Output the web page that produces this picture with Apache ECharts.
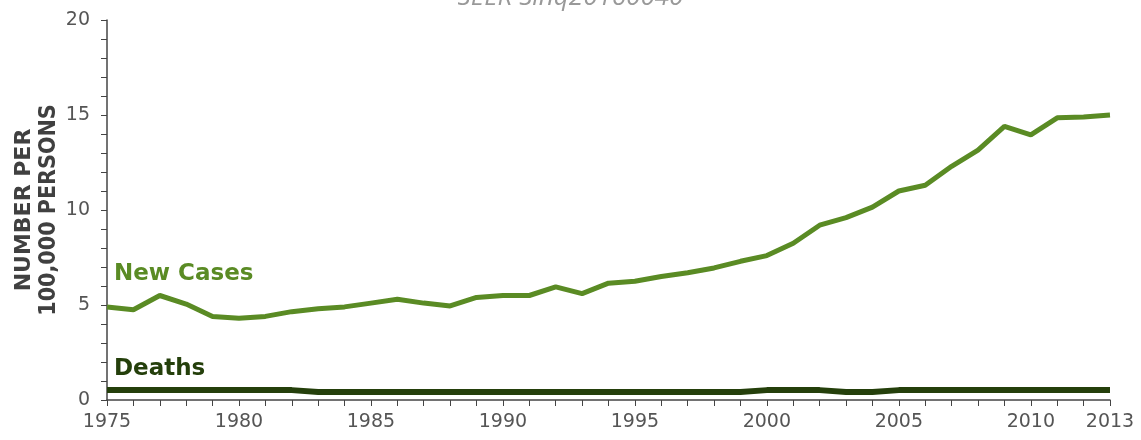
<!DOCTYPE html>
<html><head><meta charset="utf-8">
<script src="https://cdn.jsdelivr.net/npm/echarts@6/dist/echarts.min.js"></script>
<style>html,body{margin:0;padding:0;background:#fff}#c{width:1141px;height:440px}</style>
</head><body><div id="c"></div>
<script>
const years = [1975,1976,1977,1978,1979,1980,1981,1982,1983,1984,1985,1986,1987,1988,1989,1990,1991,1992,1993,1994,1995,1996,1997,1998,1999,2000,2001,2002,2003,2004,2005,2006,2007,2008,2009,2010,2011,2012,2013];
const newCases = [4.9,4.75,5.5,5.05,4.4,4.3,4.4,4.65,4.8,4.9,5.1,5.3,5.1,4.95,5.4,5.5,5.5,5.95,5.6,6.15,6.25,6.5,6.7,6.95,7.3,7.6,8.25,9.2,9.6,10.15,11.0,11.3,12.3,13.15,14.4,13.95,14.85,14.9,15.0];
const deaths = [0.52,0.52,0.52,0.52,0.52,0.52,0.52,0.52,0.42,0.42,0.42,0.42,0.42,0.42,0.42,0.42,0.42,0.42,0.42,0.42,0.42,0.42,0.42,0.42,0.42,0.52,0.52,0.52,0.42,0.42,0.52,0.52,0.52,0.52,0.52,0.52,0.52,0.52,0.52];
const xLabelYears = [1975,1980,1985,1990,1995,2000,2005,2010,2013];
const yTicks = [0,5,10,15,20];
const titleText = 'SEER Sinq20160040';
const yNameLines = ['NUMBER PER','100,000 PERSONS'];

const chart = echarts.init(document.getElementById('c'), null, {renderer:'canvas'});
const font = 'DejaVu Sans';
chart.setOption({
  animation:false,
  grid:{left:107,right:31,top:20,bottom:40,containLabel:false},
  xAxis:{type:'value',min:1975,max:2013,interval:1,
    axisLine:{show:true,lineStyle:{color:'#444',width:1.5}},
    axisTick:{show:true,length:6,lineStyle:{color:'#444'}},
    splitLine:{show:false},
    axisLabel:{fontFamily:font,fontSize:19,color:'#555',margin:13,showMaxLabel:true,
      formatter:v=>xLabelYears.indexOf(v)>=0?String(v):''}},
  yAxis:{type:'value',min:0,max:20,interval:1,
    axisLine:{show:true,lineStyle:{color:'#444',width:1.5}},
    axisTick:{show:true,length:6,lineStyle:{color:'#444'}},
    splitLine:{show:false},
    axisLabel:{fontFamily:font,fontSize:19,color:'#555',margin:17,
      formatter:v=>yTicks.indexOf(v)>=0?String(v):''}},
  graphic:[
    {type:'text',left:'center',top:-15,style:{text:titleText,font:'italic 26px "Open Sans"',fill:'#999'}},
    {type:'text',x:24,y:210,rotation:Math.PI/2,style:{text:yNameLines[0],font:'bold 22px "DejaVu Sans"',fill:'#404040',align:'center',verticalAlign:'middle'}},
    {type:'text',x:49,y:210,rotation:Math.PI/2,style:{text:yNameLines[1],font:'bold 23px "DejaVu Sans Condensed", "DejaVu Sans"',fill:'#404040',align:'center',verticalAlign:'middle'}},
    {type:'text',x:114,y:286,style:{text:'New Cases',font:'bold 23px "DejaVu Sans"',fill:'#5a8b24',verticalAlign:'bottom'}},
    {type:'text',x:114,y:381,style:{text:'Deaths',font:'bold 23px "DejaVu Sans"',fill:'#243f0b',verticalAlign:'bottom'}}
  ],
  series:[
    {type:'line',data:years.map((y,i)=>[y,newCases[i]]),showSymbol:false,lineStyle:{color:'#5a8b24',width:5},itemStyle:{color:'#5a8b24'}},
    {type:'line',data:years.map((y,i)=>[y,deaths[i]]),showSymbol:false,lineStyle:{color:'#243f0b',width:6},itemStyle:{color:'#243f0b'}}
  ]
});
</script></body></html>
